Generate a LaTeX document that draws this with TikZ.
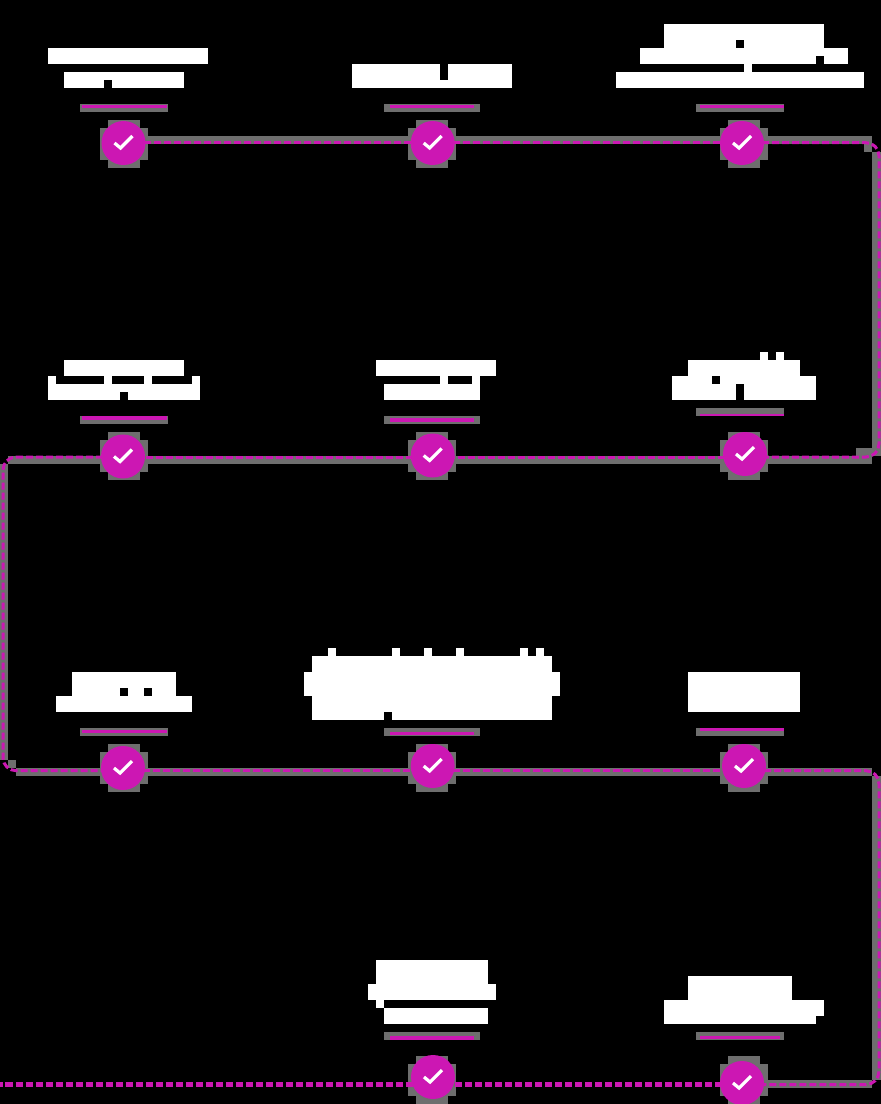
\documentclass[tikz,border=0pt]{standalone}
\pgfdeclarelayer{top}
\pgfsetlayers{main,top}
\definecolor{mag}{HTML}{CC17B3}
\definecolor{tile}{HTML}{6E6E6E}
\tikzset{
  x=1pt,y=-1pt,
  stepdot/.style={circle,fill=mag,draw=none,minimum size=44pt,inner sep=0pt},
  tick/.style={draw=white,line width=3.2pt,line cap=butt},
  conn/.style={draw=mag,line width=3pt,dash pattern=on 7pt off 3pt},
  connthick/.style={draw=mag,line width=4.5pt,dash pattern=on 7.5pt off 2.5pt},
  rule/.style={draw=mag,line width=2.4pt},
  ruleheavy/.style={draw=mag,line width=3.4pt},
  band/.style={fill=tile,draw=none},
  block/.style={fill=white,draw=none},
  notch/.style={fill=black,draw=none},
}
\newcommand{\stepmark}[3]{% name, x, y
  \node[stepdot] (#1) at (#2,#3) {};
  \draw[tick] ([shift={(-9,0)}]#1.center) -- ([shift={(-3,5)}]#1.center) -- ([shift={(9,-7)}]#1.center);
}
\begin{document}
\begin{tikzpicture}
\useasboundingbox (0,0) rectangle (881,1104);
\fill[black] (0,0) rectangle (881,1104);

% tile patches behind the dots
\foreach \cx/\cy in {124/144,432/144,744/144,124/456,432/456,744/456,124/768,432/768,744/768,432/1080,744/1080}{
  \fill[band] (\cx-24,\cy-16) rectangle (\cx+24,\cy+16);
  \fill[band] (\cx-16,\cy-24) rectangle (\cx+16,\cy+24);
}
% tile bands along connectors
\fill[band] (144,136) rectangle (872,144);
\fill[band] (864,144) rectangle (872,152);
\fill[band] (872,152) rectangle (881,456);
\fill[band] (856,448) rectangle (872,456);
\fill[band] (16,456) rectangle (872,464);
\fill[band] (8,456) rectangle (16,464);
\fill[band] (0,464) rectangle (8,760);
\fill[band] (8,760) rectangle (16,768);
\fill[band] (16,768) rectangle (872,776);
\fill[band] (872,776) rectangle (881,1080);
\fill[band] (768,1080) rectangle (872,1088);

% rule bands
\foreach \xa/\xb/\ya in {80/168/104,384/480/104,696/784/104,80/168/416,384/480/416,696/784/408,80/168/728,384/480/728,696/784/728,384/480/1032,696/784/1032}{
  \fill[band] (\xa,\ya) rectangle (\xb,\ya+8);
}

% text blocks (row 1)
\fill[block] (48,48) rectangle (208,64);
\fill[block] (64,72) rectangle (184,88);
\fill[notch] (104,80) rectangle (112,88);
\fill[block] (352,64) rectangle (512,88);
\fill[notch] (440,64) rectangle (448,80);
\fill[block] (664,24) rectangle (824,48);
\fill[notch] (736,40) rectangle (744,48);
\fill[block] (640,48) rectangle (848,64);
\fill[notch] (816,56) rectangle (824,64);
\fill[block] (744,64) rectangle (752,72);
\fill[block] (616,72) rectangle (864,88);
% row 2
\fill[block] (64,360) rectangle (184,376);
\fill[block] (48,384) rectangle (200,400);
\foreach \tx in {48,104,144,192}{\fill[block] (\tx,376) rectangle (\tx+8,384);}
\fill[notch] (120,392) rectangle (128,400);
\fill[block] (376,360) rectangle (496,376);
\fill[block] (384,384) rectangle (480,400);
\foreach \tx in {440,472}{\fill[block] (\tx,376) rectangle (\tx+8,384);}
\fill[block] (688,360) rectangle (800,376);
\fill[block] (672,376) rectangle (816,400);
\fill[block] (760,352) rectangle (768,360);
\fill[block] (776,352) rectangle (784,360);
\fill[notch] (712,376) rectangle (720,384);
\fill[notch] (736,384) rectangle (744,400);
% row 3
\fill[block] (72,672) rectangle (176,696);
\fill[notch] (120,688) rectangle (128,696);
\fill[notch] (144,688) rectangle (152,696);
\fill[block] (56,696) rectangle (192,712);
\fill[block] (312,656) rectangle (552,720);
\fill[block] (304,672) rectangle (560,696);
\foreach \tx in {328,392,424,456,520,536}{\fill[block] (\tx,648) rectangle (\tx+8,656);}
\fill[notch] (384,712) rectangle (392,720);
\fill[block] (688,672) rectangle (800,712);
% row 4
\fill[block] (376,960) rectangle (488,984);
\fill[block] (368,984) rectangle (496,1000);
\fill[block] (376,1000) rectangle (384,1008);
\fill[block] (384,1008) rectangle (488,1024);
\fill[block] (688,976) rectangle (792,1000);
\fill[block] (664,1000) rectangle (824,1016);
\fill[block] (664,1016) rectangle (816,1024);

% short rules
\coordinate (ra1) at (82,106.5);  \coordinate (rb1) at (167,106.5);
\coordinate (ra2) at (390,106.5); \coordinate (rb2) at (474,106.5);
\coordinate (ra3) at (700,106.5); \coordinate (rb3) at (784,106.5);
\coordinate (ra4) at (82,418);    \coordinate (rb4) at (167,418);
\coordinate (ra5) at (390,420);   \coordinate (rb5) at (474,420);
\coordinate (ra6) at (700,414.7); \coordinate (rb6) at (784,414.7);
\coordinate (ra7) at (82,731.7);  \coordinate (rb7) at (167,731.7);
\coordinate (ra8) at (390,733.7); \coordinate (rb8) at (474,733.7);
\coordinate (ra9) at (700,729.5); \coordinate (rb9) at (784,729.5);
\coordinate (ra10) at (390,1038); \coordinate (rb10) at (474,1038);
\coordinate (ra11) at (700,1037.7); \coordinate (rb11) at (780,1037.7);
\draw[rule] (ra1) -- (rb1);
\draw[rule] (ra2) -- (rb2);
\draw[rule] (ra3) -- (rb3);
\draw[ruleheavy] (ra4) -- (rb4);
\draw[ruleheavy] (ra5) -- (rb5);
\draw[rule] (ra6) -- (rb6);
\draw[ruleheavy] (ra7) -- (rb7);
\draw[ruleheavy] (ra8) -- (rb8);
\draw[rule] (ra9) -- (rb9);
\draw[ruleheavy] (ra10) -- (rb10);
\draw[ruleheavy] (ra11) -- (rb11);

% dots
\begin{pgfonlayer}{top}
\stepmark{n1}{123.5}{143}
\stepmark{n2}{432.7}{143}
\stepmark{n3}{742}{143}
\stepmark{n4}{123}{456.5}
\stepmark{n5}{432.7}{455.5}
\stepmark{n6}{745}{454}
\stepmark{n7}{123}{768}
\stepmark{n8}{432.7}{766}
\stepmark{n9}{744}{766}
\stepmark{n10}{433}{1077}
\stepmark{n11}{742}{1083}
\end{pgfonlayer}

% connector guide coordinates
\coordinate (Ya) at (0,142.7);
\coordinate (Yb) at (0,457);
\coordinate (Yc) at (0,770.7);
\coordinate (Yd) at (0,1084.5);
\coordinate (endpt) at (0,1084.5);

\draw[conn] (n1 |- Ya) -- (n2 |- Ya);
\draw[conn] (n2 |- Ya) -- (n3 |- Ya);
\draw[conn,rounded corners=13pt] (n3 |- Ya) -- (879,142.7) -- (879,457) -- (n6 |- Yb);
\draw[conn] (n6 |- Yb) -- (n5 |- Yb);
\draw[conn] (n5 |- Yb) -- (n4 |- Yb);
\draw[conn,rounded corners=13pt] (n4 |- Yb) -- (3,457) -- (3,770.7) -- (n7 |- Yc);
\draw[conn] (n7 |- Yc) -- (n8 |- Yc);
\draw[conn] (n8 |- Yc) -- (n9 |- Yc);
\draw[conn,rounded corners=13pt] (n9 |- Yc) -- (879,770.7) -- (879,1084.5) -- (n11 |- Yd);
\draw[connthick] (n11 |- Yd) -- (n10 |- Yd);
\draw[connthick] (n10 |- Yd) -- (endpt);
\end{tikzpicture}
\end{document}
